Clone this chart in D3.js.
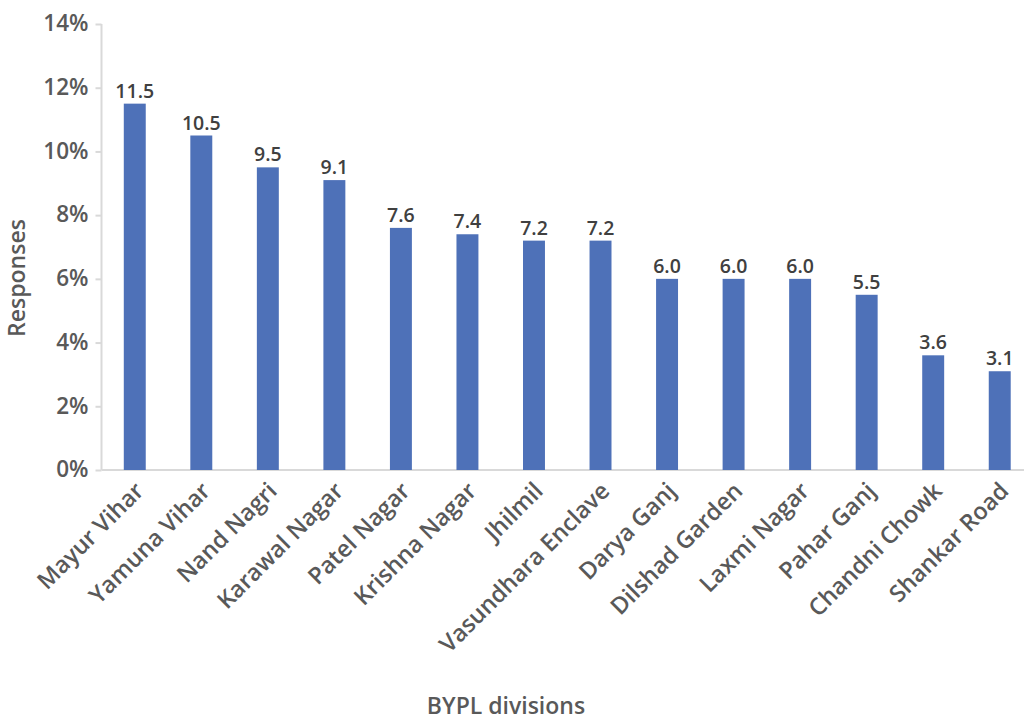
<!DOCTYPE html>
<html><head><meta charset="utf-8">
<script src="https://cdn.jsdelivr.net/npm/d3@7"></script>
<style>body{margin:0;background:#fff}svg{display:block}text{font-family:"Open Sans",sans-serif;}</style>
</head><body>
<svg id="c" width="1024" height="720"></svg>
<script>
const categories = ["Mayur Vihar","Yamuna Vihar","Nand Nagri","Karawal Nagar","Patel Nagar","Krishna Nagar","Jhilmil","Vasundhara Enclave","Darya Ganj","Dilshad Garden","Laxmi Nagar","Pahar Ganj","Chandni Chowk","Shankar Road"];
const values = [11.5,10.5,9.5,9.1,7.6,7.4,7.2,7.2,6.0,6.0,6.0,5.5,3.6,3.1];
const yTicks = [0,2,4,6,8,10,12,14];
const xTitle = "BYPL divisions";
const yTitle = "Responses";

const svg = d3.select("#c");
const x = d3.scaleBand().domain(categories).range([101.5, 1033]).paddingInner(0.67).paddingOuter(0.335);
const y = d3.scaleLinear().domain([0,14]).range([470, 24]);

svg.append("line").attr("x1",101.5).attr("x2",1024).attr("y1",470).attr("y2",470).attr("stroke","#d9d9d9").attr("stroke-width",2);
svg.append("line").attr("x1",101.5).attr("x2",101.5).attr("y1",24).attr("y2",470).attr("stroke","#d9d9d9").attr("stroke-width",2);

const yAxis = d3.axisLeft(y).tickValues(yTicks).tickSize(6).tickPadding(8).tickFormat(d => d + "%");
const gy = svg.append("g").attr("transform","translate(101.5,0)").call(yAxis);
gy.select(".domain").remove();
gy.selectAll("line").attr("stroke","#d9d9d9").attr("stroke-width",2);
gy.selectAll("text").attr("fill","#595959").attr("font-size",22.5).attr("font-weight",600).attr("dy","0.3em").attr("x",-13);

svg.append("g").selectAll("rect").data(values).join("rect")
  .attr("x",(d,i)=>x(categories[i]))
  .attr("width",x.bandwidth())
  .attr("y",d=>y(d))
  .attr("height",d=>y(0)-y(d))
  .attr("fill","#4e71b8");

svg.append("g").selectAll("text").data(values).join("text")
  .attr("x",(d,i)=>x(categories[i])+x.bandwidth()/2)
  .attr("y",d=>y(d)-6)
  .attr("text-anchor","middle")
  .attr("fill","#404040").attr("font-size",19.5).attr("font-weight",600)
  .text(d=>d.toFixed(1));

const xAxis = d3.axisBottom(x).tickSize(0).tickPadding(0);
const gx = svg.append("g").attr("transform","translate(0,470)").call(xAxis);
gx.select(".domain").remove();
gx.selectAll("text")
  .attr("fill","#595959").attr("font-size",23.5).attr("font-weight",600)
  .attr("text-anchor","end")
  .attr("dy",null).attr("y",0).attr("x",0)
  .attr("transform","translate(6,18) rotate(-45)")
  .attr("dominant-baseline","middle");

svg.append("text").attr("x",506).attr("y",714).attr("text-anchor","middle")
  .attr("fill","#595959").attr("font-size",23).attr("font-weight",600).text(xTitle);
svg.append("text").attr("transform","translate(25,278) rotate(-90)").attr("text-anchor","middle")
  .attr("fill","#595959").attr("font-size",23).attr("font-weight",600).text(yTitle);
</script>
</body></html>
